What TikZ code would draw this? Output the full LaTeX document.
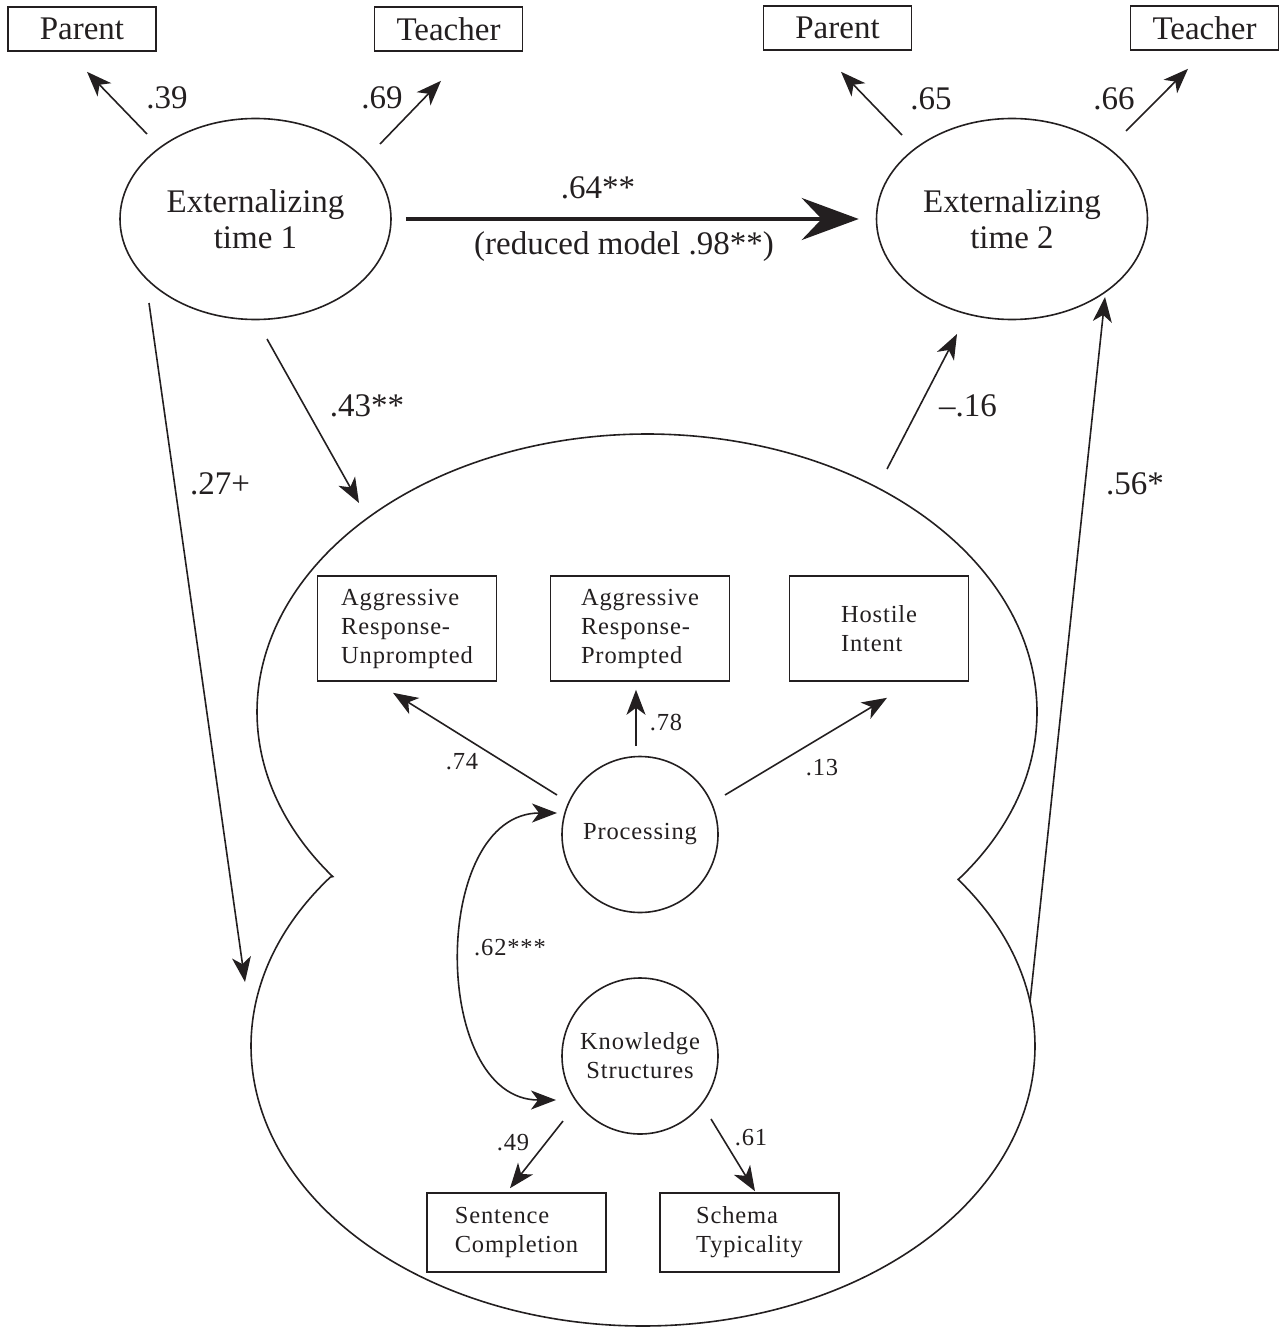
\documentclass[tikz,border=0pt]{standalone}
\usepackage{fontspec}
\setmainfont{Liberation Serif}
\newfontfamily\trackedserif[LetterSpace=3.5]{Liberation Serif}
\usetikzlibrary{shapes.geometric, arrows.meta, calc}
\definecolor{ink}{HTML}{231F20}
\begin{document}
\begin{tikzpicture}[x=1pt, y=-1pt, line width=1.6pt, color=ink,
  big/.style={font=\fontsize{33}{36}\selectfont},
  small/.style={font=\trackedserif\fontsize{24.5}{29}\selectfont},
  obs/.style={draw, rectangle, minimum width=148pt, minimum height=44pt, inner sep=0pt, big},
  lat/.style={draw, ellipse, minimum width=271pt, minimum height=201pt, inner sep=0pt, align=center, big},
  ind/.style={draw, rectangle, minimum width=179pt, minimum height=105pt, inner sep=0pt, align=left, small},
  fac/.style={draw, circle, minimum size=156pt, inner sep=0pt, align=center, small},
  arr/.style={-{Stealth[length=25pt, width=19pt, inset=7pt]}},
  dbl/.style={{Stealth[length=25pt, width=19pt, inset=7pt]}-{Stealth[length=25pt, width=19pt, inset=7pt]}},
  mainarr/.style={line width=4pt, -{Stealth[length=57pt, width=42pt, inset=20pt]}},
  lab/.style={big, inner sep=0pt},
  slab/.style={small, inner sep=0pt}]
\useasboundingbox (0,0) rectangle (1287,1329);

% observed indicators (top)
\node[obs] (p1) at (82,29) {Parent};
\node[obs] (t1) at (448.5,29) {Teacher};
\node[obs] (p2) at (837.5,28) {Parent};
\node[obs] (t2) at (1204.5,28) {Teacher};

% latent externalizing
\node[lat] (e1) at (255.5,219) {Externalizing\\time 1};
\node[lat] (e2) at (1012,219) {Externalizing\\time 2};

% blob
\draw plot[domain=143.7:397.2, samples=240, variable=\t] ({647+390*cos(\t)}, {712+278*sin(\t)})
  -- plot[domain=-36.5:217.1, samples=240, variable=\t] ({643+392*cos(\t)}, {1046+280*sin(\t)}) -- cycle;
\coordinate (bA) at (359,503);
\coordinate (bB) at (245,982);
\coordinate (bC) at (887,469);
\coordinate (bD) at (1030,1002);

% inner nodes
\node[ind] (u) at (407,628.5) {Aggressive\\Response-\\Unprompted};
\node[ind] (pp) at (640,628.5) {Aggressive\\Response-\\Prompted};
\node[ind] (hi) at (879,628.5) {Hostile\\Intent};
\node[fac] (pr) at (640,834.5) {Processing};
\node[fac] (kn) at (640,1056) {Knowledge\\Structures};
\node[ind, minimum height=79pt] (sc) at (516.5,1232.5) {Sentence\\Completion};
\node[ind, minimum height=79pt] (st) at (749.5,1232.5) {Schema\\Typicality};

% top loadings
\draw[arr] ($(e1.center)+(-108.5,-85)$) -- ($(p1.south)+(5,20)$);
\draw[arr] ($(e1.center)+(124.5,-75)$) -- ($(t1.south)+(-7.5,29)$);
\draw[arr] ($(e2.center)+(-110,-84)$) -- ($(p2.south)+(3.5,21)$);
\draw[arr] ($(e2.center)+(114,-88)$) -- ($(t2.south)+(-16.5,18)$);
\node[lab] (l39) at (167,98) {.39};
\node[lab] (l69) at (382,98) {.69};
\node[lab] (l65) at (931,99) {.65};
\node[lab] (l66) at (1114,99) {.66};

% main path
\draw[mainarr] ($(e1.east)+(14,0)$) -- ($(e2.west)+(-17,0)$);
\node[lab] (l64) at (598,188) {.64**};
\node[lab] (lred) at (624,247) {(reduced model .98**)};

% paths to/from blob
\draw[arr] ($(e1.center)+(11.5,120)$) -- (bA);
\draw[arr] ($(e1.center)+(-106.5,84)$) -- (bB);
\draw[arr] (bC) -- ($(e2.center)+(-55,115)$);
\draw[arr] (bD) -- ($(e2.center)+(93,78)$);
\node[lab] (l43) at (367,406) {.43**};
\node[lab] (l27) at (220,484) {.27+};
\node[lab] (l16) at (968,406) {–.16};
\node[lab] (l56) at (1135,484) {.56*};

% inner loadings
\draw[arr] ($(pr.center)+(-83,-39.5)$) -- ($(u.south)+(-14,11)$);
\draw[arr] ($(pr.center)+(-4,-88.5)$) -- ($(pp.south)+(-4,8)$);
\draw[arr] ($(pr.center)+(85,-39.5)$) -- ($(hi.south)+(8,16)$);
\draw[arr] ($(kn.center)+(-77,65)$) -- ($(sc.north)+(-6.5,-4)$);
\draw[arr] ($(kn.center)+(71,63)$) -- ($(st.north)+(5.5,-1)$);
\draw[dbl] ($(pr.center)+(-83,-21.5)$) .. controls +(-127,0) and +(-126,0) .. ($(kn.center)+(-84,44)$);
\node[slab] (l74) at (462,762) {.74};
\node[slab] (l78) at (666,723) {.78};
\node[slab] (l13) at (822,768) {.13};
\node[slab] (l62) at (510,948) {.62***};
\node[slab] (l49) at (513,1143) {.49};
\node[slab] (l61) at (751,1138) {.61};
\end{tikzpicture}
\end{document}
